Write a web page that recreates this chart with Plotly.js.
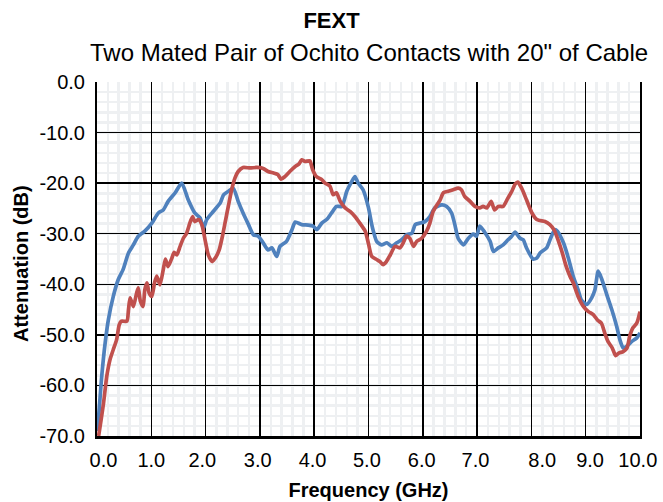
<!DOCTYPE html>
<html>
<head>
<meta charset="utf-8">
<script src="https://cdn.plot.ly/plotly-3.0.1.min.js"></script>
<style>
  html, body { margin: 0; padding: 0; background: #ffffff; }
  #chart { width: 663px; height: 502px; }
</style>
</head>
<body>
<div id="chart"></div>
<script>
// Blue series (frequency GHz, attenuation dB)
const blueFreq = [0.0, 0.02, 0.087, 0.15, 0.21, 0.30, 0.39, 0.48, 0.58, 0.67, 0.76, 0.88, 1.01, 1.13, 1.22, 1.31, 1.44, 1.56, 1.68, 1.80, 1.90, 1.96, 2.02, 2.14, 2.27, 2.33, 2.42, 2.51, 2.60, 2.69, 2.79, 2.88, 2.97, 3.06, 3.15, 3.22, 3.31, 3.37, 3.49, 3.59, 3.65, 3.77, 3.89, 3.98, 4.05, 4.14, 4.23, 4.32, 4.41, 4.51, 4.60, 4.69, 4.75, 4.81, 4.90, 5.00, 5.06, 5.09, 5.15, 5.24, 5.34, 5.43, 5.52, 5.61, 5.70, 5.80, 5.86, 5.95, 6.04, 6.13, 6.22, 6.35, 6.44, 6.53, 6.59, 6.65, 6.75, 6.84, 6.93, 6.99, 7.05, 7.14, 7.24, 7.30, 7.39, 7.48, 7.57, 7.63, 7.70, 7.79, 7.85, 7.91, 8.03, 8.10, 8.16, 8.28, 8.35, 8.43, 8.48, 8.59, 8.68, 8.77, 8.86, 8.92, 9.02, 9.11, 9.17, 9.23, 9.29, 9.39, 9.48, 9.57, 9.63, 9.69, 9.75, 9.85, 9.94, 10.0];
const blueAtten = [-69.0, -67.4, -58.2, -51.6, -47.0, -42.4, -39.1, -37.1, -33.8, -32.2, -30.5, -29.5, -27.9, -25.9, -25.3, -23.6, -21.9, -20.0, -23.3, -25.9, -26.9, -28.9, -27.2, -25.6, -23.9, -22.3, -21.6, -21.0, -23.6, -25.9, -28.2, -30.2, -30.5, -31.8, -33.2, -32.8, -34.5, -32.5, -31.5, -29.2, -27.7, -28.2, -28.3, -28.5, -29.2, -27.9, -27.2, -25.9, -24.6, -24.6, -21.6, -19.7, -18.7, -20.0, -21.3, -24.9, -28.2, -29.5, -31.5, -32.2, -31.8, -32.5, -31.8, -31.2, -30.2, -29.9, -28.2, -27.9, -27.6, -26.6, -24.9, -24.3, -24.6, -25.9, -28.2, -30.9, -32.2, -30.9, -30.1, -30.5, -28.5, -29.7, -31.5, -33.5, -32.8, -32.2, -31.2, -30.6, -29.7, -30.9, -31.2, -32.8, -35.0, -34.8, -33.8, -32.8, -31.0, -29.2, -29.5, -31.8, -34.8, -38.4, -41.1, -43.1, -44.0, -42.7, -41.1, -37.4, -38.8, -42.1, -45.0, -48.3, -51.0, -52.6, -52.3, -51.3, -50.6, -49.6];

// Red series (frequency GHz, attenuation dB)
const redFreq = [0.03, 0.12, 0.18, 0.24, 0.30, 0.36, 0.41, 0.45, 0.55, 0.58, 0.61, 0.67, 0.73, 0.76, 0.80, 0.85, 0.88, 0.92, 0.96, 1.01, 1.06, 1.10, 1.16, 1.22, 1.26, 1.31, 1.38, 1.42, 1.47, 1.53, 1.59, 1.65, 1.71, 1.76, 1.80, 1.87, 1.93, 1.99, 2.05, 2.12, 2.19, 2.25, 2.31, 2.37, 2.42, 2.48, 2.54, 2.60, 2.69, 2.82, 2.94, 3.06, 3.15, 3.25, 3.33, 3.39, 3.46, 3.55, 3.65, 3.72, 3.77, 3.83, 3.92, 3.97, 4.04, 4.14, 4.20, 4.29, 4.35, 4.41, 4.48, 4.57, 4.66, 4.75, 4.84, 4.94, 5.00, 5.06, 5.15, 5.21, 5.27, 5.33, 5.40, 5.49, 5.58, 5.64, 5.70, 5.76, 5.83, 5.89, 5.98, 6.07, 6.13, 6.19, 6.26, 6.32, 6.38, 6.47, 6.56, 6.65, 6.71, 6.77, 6.87, 6.96, 7.05, 7.11, 7.18, 7.26, 7.32, 7.39, 7.48, 7.57, 7.64, 7.70, 7.75, 7.82, 7.91, 8.01, 8.10, 8.16, 8.25, 8.34, 8.42, 8.50, 8.57, 8.63, 8.71, 8.77, 8.86, 8.96, 9.05, 9.14, 9.22, 9.29, 9.35, 9.41, 9.49, 9.55, 9.61, 9.69, 9.76, 9.81, 9.87, 9.94, 10.0];
const redAtten = [-70.0, -63.5, -58.2, -54.9, -52.9, -51.0, -48.0, -47.3, -47.3, -45.0, -42.7, -44.4, -41.7, -40.7, -43.4, -44.4, -41.1, -39.7, -41.7, -42.4, -39.7, -38.4, -40.1, -37.1, -35.0, -36.5, -34.8, -33.7, -34.2, -32.5, -30.9, -29.9, -27.9, -26.6, -27.6, -27.2, -28.2, -31.2, -34.2, -35.5, -34.6, -33.2, -30.5, -27.2, -24.5, -21.3, -19.0, -17.7, -16.9, -17.0, -16.9, -17.1, -17.7, -18.0, -18.3, -19.2, -18.7, -17.7, -16.7, -16.2, -15.4, -15.7, -15.6, -17.3, -18.7, -19.3, -20.0, -20.6, -22.3, -21.9, -23.6, -24.9, -25.6, -26.6, -27.9, -29.5, -32.0, -34.5, -35.1, -35.5, -36.1, -35.5, -34.2, -32.5, -32.8, -31.8, -30.5, -30.9, -32.5, -31.5, -30.9, -29.5, -27.9, -25.6, -24.3, -23.3, -21.9, -21.6, -21.3, -21.0, -21.3, -22.6, -23.6, -24.6, -24.9, -24.6, -24.9, -23.6, -25.3, -24.6, -24.6, -22.9, -21.6, -20.2, -19.8, -21.0, -23.3, -25.9, -27.2, -27.4, -27.6, -28.2, -29.3, -31.5, -33.8, -36.1, -38.4, -39.7, -42.4, -44.4, -45.4, -46.0, -47.1, -47.7, -49.6, -51.3, -52.6, -54.1, -53.6, -53.3, -52.6, -50.3, -48.6, -47.7, -45.4];

// Tick labels
const xTickText = ["0.0", "1.0", "2.0", "3.0", "4.0", "5.0", "6.0", "7.0", "8.0", "9.0", "10.0"];
const xTickPos = [0.12, 1.0, 1.94, 2.96, 3.97, 4.97, 5.98, 6.97, 8.2, 9.08, 9.96];
const yTickVals = [0, -10, -20, -30, -40, -50, -60, -70];
const yTickText = ["0.0", "-10.0", "-20.0", "-30.0", "-40.0", "-50.0", "-60.0", "-70.0"];

const FONT = "Liberation Sans, Arial, sans-serif";

const traces = [
  {
    x: blueFreq, y: blueAtten, type: "scatter", mode: "lines",
    line: { color: "#4f81bd", width: 3.7, shape: "spline", smoothing: 0.6 },
    xaxis: "x", yaxis: "y", hoverinfo: "skip", showlegend: false
  },
  {
    x: redFreq, y: redAtten, type: "scatter", mode: "lines",
    line: { color: "#c0504d", width: 3.7, shape: "spline", smoothing: 0.6 },
    xaxis: "x2", yaxis: "y", hoverinfo: "skip", showlegend: false
  }
];

const layout = {
  width: 663, height: 502,
  margin: { l: 97, r: 23, t: 82, b: 66, pad: 0 },
  paper_bgcolor: "#ffffff", plot_bgcolor: "#ffffff",
  font: { family: FONT, color: "#000000", size: 20 },
  title: {
    text: "<b>FEXT</b>",
    font: { family: FONT, size: 22, color: "#000000" },
    xref: "container", x: 0.5, xanchor: "center",
    yref: "container", y: 1 - 20 / 502, yanchor: "middle"
  },
  annotations: [{
    text: "Two Mated Pair of Ochito Contacts with 20\" of Cable",
    xref: "paper", x: 0.5, xanchor: "center",
    yref: "paper", y: 1 + 30 / 354, yanchor: "middle",
    showarrow: false,
    font: { family: FONT, size: 24, color: "#000000" }
  }, {
    text: "<b>Attenuation (dB)</b>",
    xref: "paper", x: (21 - 97) / 543, xanchor: "center",
    yref: "paper", y: (436 - 264) / 354, yanchor: "middle",
    textangle: -90, showarrow: false,
    font: { family: FONT, size: 20, color: "#000000" }
  }],
  xaxis: {
    range: [0, 10], dtick: 1, tick0: 0,
    showticklabels: false, ticks: "",
    showgrid: true, gridcolor: "#000000", gridwidth: 1.5,
    minor: { dtick: 0.2, showgrid: true, gridcolor: "#eef0f2", gridwidth: 2.5, ticks: "" },
    zeroline: false,
    showline: true, linecolor: "#000000", linewidth: 2.5, mirror: false,
    fixedrange: true
  },
  xaxis2: {
    range: [0, 10], overlaying: "x", anchor: "y", side: "bottom",
    tickmode: "array", tickvals: xTickPos, ticktext: xTickText,
    ticks: "", ticklabelstandoff: 10,
    tickfont: { family: FONT, size: 20, color: "#000000" },
    showgrid: false, zeroline: false, showline: false,
    title: { text: "<b>Frequency (GHz)</b>", font: { family: FONT, size: 20, color: "#000000" }, standoff: 12 },
    fixedrange: true
  },
  yaxis: {
    range: [-70, 0],
    tickmode: "array", tickvals: yTickVals, ticktext: yTickText,
    ticks: "", ticklabelstandoff: 6,
    tickfont: { family: FONT, size: 20, color: "#000000" },
    showgrid: true, gridcolor: "#000000", gridwidth: 1.5,
    minor: { dtick: 2, showgrid: true, gridcolor: "#eef0f2", gridwidth: 2.5, ticks: "" },
    zeroline: false,
    showline: true, linecolor: "#000000", linewidth: 2, mirror: true,
    fixedrange: true
  }
};

Plotly.newPlot("chart", traces, layout, { displayModeBar: false, staticPlot: true });
</script>
</body>
</html>
